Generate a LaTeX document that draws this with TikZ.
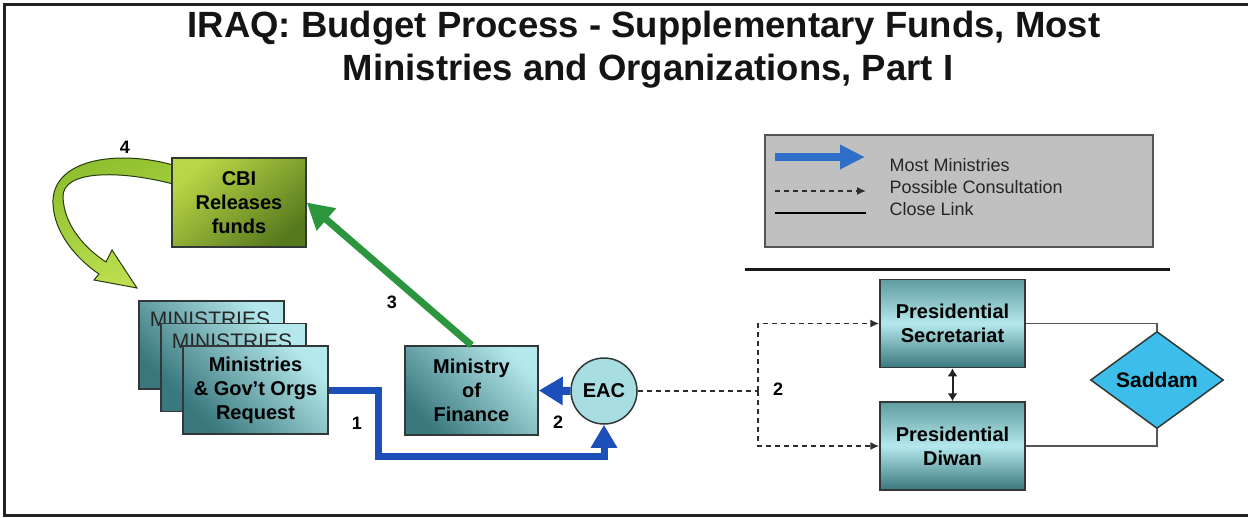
\documentclass[tikz,border=0pt]{standalone}
\usepackage{fontspec}
\setmainfont{Liberation Sans}
\usetikzlibrary{arrows.meta,shapes.geometric,calc}
\definecolor{tealD}{RGB}{58,120,125}
\definecolor{tealL}{RGB}{180,232,236}
\definecolor{tealM}{RGB}{96,156,160}
\definecolor{boxline}{RGB}{50,55,55}
\definecolor{eacfill}{RGB}{168,221,225}
\definecolor{greenA}{RGB}{44,150,62}
\definecolor{blueA}{RGB}{29,79,184}
\definecolor{blueL}{RGB}{47,111,200}
\definecolor{legfill}{RGB}{192,192,192}
\definecolor{legline}{RGB}{85,85,85}
\definecolor{saddamfill}{RGB}{61,189,233}
\definecolor{cbiL}{RGB}{185,214,70}
\definecolor{cbiD}{RGB}{88,122,30}
\definecolor{curveL}{RGB}{190,224,80}
\definecolor{curveD}{RGB}{140,190,45}
\definecolor{curveline}{RGB}{40,58,16}
\definecolor{dashcol}{RGB}{45,45,45}
\definecolor{framecol}{RGB}{35,35,35}
\begin{document}
\begin{tikzpicture}[x=1pt,y=-1pt,
  boxfont/.style={font=\fontsize{20}{24}\selectfont\bfseries},
  tealbox/.style={draw=boxline, line width=1.5pt, top color=tealL, bottom color=tealD,
    shading angle=-45, minimum width=145pt, minimum height=88pt, inner sep=0pt,
    align=center, boxfont},
  presbox/.style={draw=boxline, line width=1.5pt, top color=tealM, bottom color=tealD,
    middle color=tealL, minimum width=145pt, minimum height=88pt, inner sep=0pt,
    align=center, boxfont},
  numlabel/.style={font=\fontsize{18}{20}\selectfont\bfseries},
  legtext/.style={font=\fontsize{18}{22}\selectfont, anchor=west, text=black!85},
  bluearrow/.style={draw=blueA, line width=7pt, -{Triangle[length=23pt,width=25pt]}},
  greenarrow/.style={draw=greenA, line width=7pt, -{Triangle[length=26pt,width=28pt]}},
  dashline/.style={draw=dashcol, line width=1.5pt, dash pattern=on 5pt off 4pt},
  dasharrow/.style={dashline, -{Latex[length=9pt,width=8pt]}},
  closelink/.style={draw=legline, line width=1.5pt},
]
\useasboundingbox (0,0) rectangle (1248,517);
% frame
\draw[line width=3pt, framecol] (1252,4) -- (4,4) -- (4,515) -- (1252,515);

% title
\node[font=\fontsize{36.5}{43}\selectfont\bfseries, anchor=base, text=black!92] (t1) at (644,37)
  {IRAQ: Budget Process - Supplementary Funds, Most};
\node[font=\fontsize{36.5}{43}\selectfont\bfseries, anchor=base, text=black!92] (t2) at (648,80)
  {Ministries and Organizations, Part I};

% curved arrow 4 (behind the CBI box)
\coordinate (tip4) at (137,288);
\path[draw=curveline, line width=1pt, top color=curveD, bottom color=curveL, shading angle=20]
  (173,165) .. controls (120,150) and (55,158) .. (53,200)
  .. controls (52,232) and (78,260) .. (99,274)
  -- (94,280) -- (tip4) -- (112,250) -- (106,262)
  .. controls (86,249) and (64,226) .. (63,197)
  .. controls (62,170) and (120,170) .. (173,184) -- cycle;

% CBI
\node[draw=boxline, line width=1.5pt, top color=cbiL, bottom color=cbiD, shading angle=40,
  minimum width=134pt, minimum height=89pt, inner sep=0pt, align=center, boxfont]
  (cbi) at (239,202.5) {CBI\\Releases\\funds};

% ministries stack
\node[tealbox] (mb1) at (211.5,345) {};
\node[font=\fontsize{21}{24}\selectfont, anchor=base, text=black!85] (mb1t) at ($(mb1.north)+(-1.5,26)$) {MINISTRIES};
\node[tealbox] (mb2) at (233.5,367.5) {};
\node[font=\fontsize{21}{24}\selectfont, anchor=base, text=black!85] (mb2t) at ($(mb2.north)+(-1.5,26)$) {MINISTRIES};
\node[tealbox] (mb3) at (255.5,390) {Ministries\\\& Gov’t Orgs\\Request};

% Ministry of Finance and EAC
\node[tealbox, minimum width=133pt, minimum height=89pt] (mof) at (471.5,390.5) {Ministry\\of\\Finance};
\node[circle, draw=boxline, line width=1.5pt, fill=eacfill, minimum size=66pt, inner sep=0pt, boxfont]
  (eac) at (604,391) {EAC};

% presidential boxes and Saddam
\node[presbox] (ps) at (952.5,323.5) {Presidential\\Secretariat};
\node[presbox] (pd) at (952.5,446) {Presidential\\Diwan};
\node[diamond, draw=boxline, line width=1.5pt, fill=saddamfill, minimum width=133pt,
  minimum height=87pt, inner sep=0pt, font=\fontsize{21}{24}\selectfont\bfseries]
  (sad) at (1157,380) {Saddam};

% arrow 1
\coordinate (c1) at (378,456);
\draw[bluearrow] (mb3.east) -| (c1) -| (eac.south);
% arrow 2
\draw[draw=blueA, line width=8pt, -{Triangle[length=24pt,width=27pt]}] (eac.west) -- (mof.east);
% arrow 3
\draw[greenarrow] (mof.north) -- (cbi.east);

% dashed consultation
\coordinate (d1) at (758,391);
\draw[dashline] (eac.east) -- (d1);
\draw[dasharrow] (d1) |- (ps.west);
\draw[dasharrow] (d1) |- (pd.west);

% close links
\draw[closelink] (ps.east) -| (sad.north);
\draw[closelink] (pd.east) -| (sad.south);
\draw[draw=framecol, line width=2pt, {Latex[length=8pt,width=10pt]}-{Latex[length=8pt,width=10pt]}] (ps.south) -- (pd.north);

% number labels
\node[numlabel] (n4) at (125,147) {4};
\node[numlabel] (n3) at (392,302) {3};
\node[numlabel] (n1) at (357,423) {1};
\node[numlabel] (n2a) at (558,422) {2};
\node[numlabel] (n2b) at (778,389) {2};

% legend
\node[draw=legline, line width=2pt, fill=legfill, minimum width=388pt, minimum height=112pt, inner sep=0pt]
  (leg) at (959,191) {};
\coordinate (la1) at (775,157); \coordinate (lb1) at (865,157);
\coordinate (la2) at (775,191); \coordinate (lb2) at (866,191);
\coordinate (la3) at (775,213); \coordinate (lb3) at (866,213);
\draw[draw=blueL, line width=8pt, -{Triangle[length=25pt,width=23pt]}] (la1) -- (lb1);
\draw[dasharrow] (la2) -- (lb2);
\draw[closelink, draw=black] (la3) -- (lb3);
\node[legtext] (lt1) at (886,165) {Most Ministries};
\node[legtext] (lt2) at (886,187) {Possible Consultation};
\node[legtext] (lt3) at (886,209) {Close Link};

% separator
\coordinate (s1) at (745,269); \coordinate (s2) at (1170,269);
\draw[line width=3pt, black!90] (s1) -- (s2);
\end{tikzpicture}
\end{document}
